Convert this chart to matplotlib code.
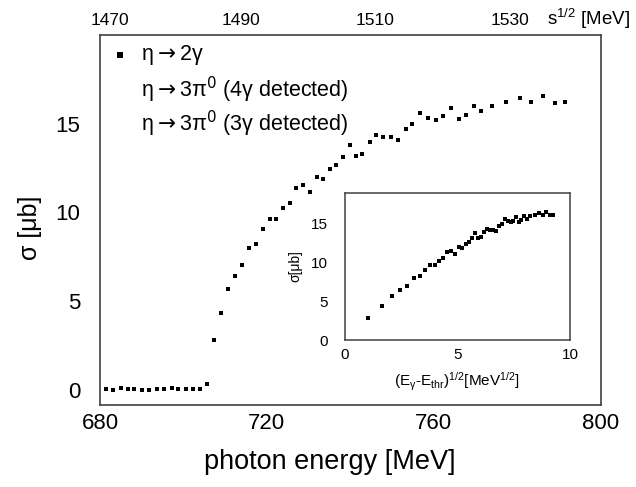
import numpy as np
import matplotlib
matplotlib.use("Agg")
import matplotlib.pyplot as plt

plt.rcParams['font.family'] = ['Liberation Sans', 'DejaVu Sans']
plt.rcParams['mathtext.fontset'] = 'custom'
plt.rcParams['mathtext.rm'] = 'Liberation Sans'
plt.rcParams['mathtext.it'] = 'Liberation Sans'
plt.rcParams['mathtext.bf'] = 'Liberation Sans:bold'

# eta -> 2 gamma total cross section
photon_energy = [681.4, 683.0, 685.0, 686.6, 688.2, 690.0, 691.8, 693.7, 695.4, 697.2,
                 698.8, 700.6, 702.2, 704.0, 705.6,
                 707.4, 709.1, 710.8, 712.4, 714.1, 715.8, 717.4, 719.0, 720.8, 722.3,
                 723.9, 725.5, 727.0, 728.7, 730.4, 732.0, 733.5, 735.2, 736.7,
                 738.3, 739.9, 741.5, 742.9, 744.7, 746.3, 747.9, 749.7, 751.5, 753.3,
                 754.9, 756.7, 758.6, 760.6, 762.3, 764.2, 766.2, 767.8, 769.8, 771.5,
                 774.1, 777.5, 780.7, 783.5, 786.4, 789.1, 791.5]
sigma_2g = [0.03, -0.03, 0.12, 0.03, 0.04, 0.00, 0.02, 0.07, 0.04, 0.09,
            0.05, 0.06, 0.04, 0.05, 0.35,
            2.79, 4.33, 5.71, 6.44, 7.02, 7.97, 8.23, 9.08, 9.64, 9.64,
            10.23, 10.56, 11.36, 11.54, 11.17, 12.02, 11.90, 12.43, 12.66,
            13.15, 13.79, 13.18, 13.28, 13.97, 14.35, 14.27, 14.27, 14.07, 14.73,
            15.01, 15.58, 15.35, 15.20, 15.44, 15.86, 15.25, 15.50, 16.00, 15.69,
            16.00, 16.20, 16.44, 16.20, 16.57, 16.16, 16.20]

x_ticks = [680, 720, 760, 800]
y_ticks = [0, 5, 10, 15]
w_ticks = [1470, 1490, 1510, 1530]
inset_x_ticks = [0, 5, 10]
inset_y_ticks = [0, 5, 10, 15]

legend_labels = [r'η$\rightarrow$2γ',
                 r'η$\rightarrow$3π$^0$ (4γ detected)',
                 r'η$\rightarrow$3π$^0$ (3γ detected)']

M_P = 938.27     # proton mass [MeV]
E_THR = 706.4    # threshold photon energy [MeV]

frame_color = '#404040'

fig = plt.figure(figsize=(6.36, 4.87), dpi=100)
ax = fig.add_axes([100/636, 1-405/487, 501/636, 370/487])

E = np.array(photon_energy)
s2g = np.array(sigma_2g)
ax.plot(E, s2g, ls='none', marker='s', ms=3.2, color='black', mew=0)

ax.set_xlim(680, 800.2)
ax.set_ylim(-0.85, 20.0)
ax.set_xticks(x_ticks)
ax.set_yticks(y_ticks)
ax.tick_params(axis='x', length=0, pad=6, labelsize=16)
ax.tick_params(axis='y', length=0, pad=14, labelsize=16)
ax.set_xlabel('photon energy [MeV]', fontsize=19.5)
ax.xaxis.set_label_coords((330-100)/501, (405-462)/370)
ax.xaxis.label.set_va('center')
ax.set_ylabel('σ [μb]', fontsize=18)
ax.yaxis.set_label_coords((30-100)/501, (405-228)/370)
ax.yaxis.label.set_va('center')
for sp in ax.spines.values():
    sp.set_color(frame_color)
    sp.set_linewidth(1.2)


def to_w(e):
    return np.sqrt(M_P**2 + 2*M_P*np.asarray(e, dtype=float))


def to_e(w):
    return (np.asarray(w, dtype=float)**2 - M_P**2) / (2*M_P)


top = ax.secondary_xaxis('top', functions=(to_w, to_e))
top.set_xticks(w_ticks)
top.tick_params(length=0, pad=5, labelsize=12.5)
top.spines['top'].set_visible(False)
fig.text(547/636, 1-19/487, r's$^{1/2}$ [MeV]', fontsize=13.5, ha='left', va='center')

# legend
ax.plot([0.04], [0.946], transform=ax.transAxes, ls='none', marker='s', ms=5,
        color='black', mew=0)
for yy, lab in zip([0.946, 0.851, 0.759], legend_labels):
    ax.text(0.082, yy, lab, transform=ax.transAxes, fontsize=15.5, ha='left',
            va='center', math_fontfamily='dejavusans')

# inset: cross section vs sqrt(E - E_thr)
ins = fig.add_axes([345/636, 1-340/487, 225/636, 147/487])
mask = E > E_THR
ins.plot(np.sqrt(E[mask] - E_THR), s2g[mask], ls='none', marker='s', ms=2.4,
         color='black', mew=0)
ins.set_xlim(0, 10)
ins.set_ylim(0, 19)
ins.set_xticks(inset_x_ticks)
ins.set_yticks(inset_y_ticks)
ins.tick_params(axis='x', length=0, pad=6, labelsize=11)
ins.tick_params(axis='y', length=0, pad=12, labelsize=11)
ins.set_xlabel(r'(E$_\gamma$-E$_{thr}$)$^{1/2}$[MeV$^{1/2}$]', fontsize=11)
ins.xaxis.set_label_coords((457-345)/225, (340-382)/147)
ins.xaxis.label.set_va('center')
ins.set_ylabel('σ[μb]', fontsize=10)
ins.yaxis.set_label_coords((295-345)/225, 0.5)
ins.yaxis.label.set_va('center')
for sp in ins.spines.values():
    sp.set_color(frame_color)
    sp.set_linewidth(1.1)

fig.savefig('out.png', dpi=100)
